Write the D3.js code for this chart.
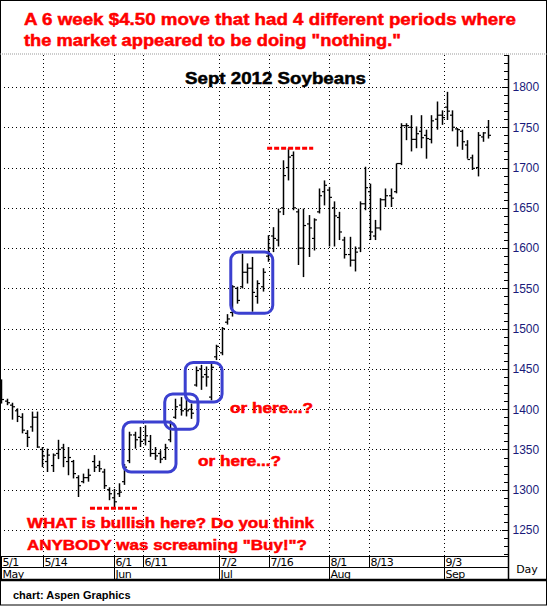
<!DOCTYPE html>
<html><head><meta charset="utf-8">
<script src="https://cdn.jsdelivr.net/npm/d3@7"></script>
<style>body{margin:0;background:#fff}svg{display:block}</style>
</head><body><svg id="c" width="547" height="607"></svg>
<script>
const highs=[1437,1413,1408,1401,1395,1374,1397,1397,1353,1351,1345,1362,1357,1353,1337,1318,1320,1326,1343,1336,1326,1303,1301,1308,1332,1372,1372,1378,1380,1368,1353,1349,1357,1386,1413,1415,1413,1407,1453,1455,1453,1457,1480,1502,1518,1554,1552,1593,1581,1589,1560,1575,1616,1626,1649,1709,1724,1720,1649,1649,1641,1637,1674,1684,1676,1658,1645,1614,1614,1602,1658,1701,1680,1635,1662,1674,1674,1705,1755,1755,1765,1751,1765,1747,1765,1782,1771,1794,1771,1749,1747,1734,1716,1744,1744,1759];
const lows=[1407,1405,1387,1384,1370,1353,1372,1352,1328,1322,1322,1338,1328,1318,1314,1291,1308,1310,1322,1322,1301,1287,1277,1291,1306,1333,1351,1353,1355,1341,1337,1333,1337,1359,1388,1392,1391,1388,1428,1424,1428,1411,1461,1467,1505,1515,1531,1550,1556,1521,1531,1546,1583,1595,1602,1641,1684,1647,1579,1564,1589,1597,1643,1653,1602,1602,1610,1587,1577,1571,1595,1647,1610,1610,1622,1651,1651,1668,1703,1734,1720,1724,1724,1711,1730,1747,1753,1759,1745,1726,1722,1711,1697,1689,1732,1736];
const opens=[1430,1410,1405,1398,1390,1370,1378,1390,1350,1335,1330,1345,1352,1335,1335,1315,1310,1315,1335,1330,1322,1300,1290,1295,1310,1336,1368,1365,1362,1360,1345,1345,1340,1362,1390,1405,1400,1400,1430,1450,1443,1415,1465,1470,1508,1520,1550,1552,1570,1575,1540,1552,1590,1615,1610,1650,1700,1715,1645,1600,1630,1612,1645,1670,1672,1650,1638,1610,1592,1585,1600,1655,1670,1615,1625,1660,1665,1670,1705,1752,1750,1735,1745,1740,1735,1760,1765,1775,1765,1748,1745,1728,1712,1700,1738,1750];
const closes=[1412,1408,1403,1391,1374,1365,1390,1353,1342,1343,1343,1350,1340,1340,1320,1305,1315,1318,1328,1326,1305,1295,1285,1297,1328,1368,1362,1360,1367,1345,1342,1338,1352,1383,1403,1398,1398,1395,1448,1440,1440,1452,1478,1500,1512,1552,1535,1570,1575,1545,1556,1570,1600,1612,1645,1690,1713,1650,1600,1628,1625,1635,1665,1678,1663,1640,1620,1592,1585,1595,1655,1675,1620,1625,1660,1665,1662,1705,1752,1752,1735,1742,1737,1736,1758,1765,1762,1770,1750,1747,1732,1710,1699,1740,1743,1740];
const dateLabels=["5/1","5/14","6/1","6/11","7/2","7/16","8/1","8/13","9/3"];
const dateIdx=[0,8.2,22,27.7,42.5,52.2,64,71.8,86.4];
const monthLabels=["May","Jun","Jul","Aug","Sep"];
const monthIdx=[0,22,42.5,64,86.4];
const priceTicks=[1250,1300,1350,1400,1450,1500,1550,1600,1650,1700,1750,1800];
// annotation boxes: [startIdx,endIdx,lowPrice,highPrice]
const boxes=[[23.75,34.1,1322,1384],[31.9,38.4,1375,1419],[35.9,43.1,1409,1458],[44.8,53.0,1519,1595]];
const redLines=[[17.3,26.5,1277],[51.9,60.9,1724]];

const svg=d3.select("#c");
const x=d3.scaleLinear().domain([0,1]).range([1.4,6.52]);
const y=d3.scaleLinear().domain([1250,1800]).range([530,87]);
const L=0,R=508,T=55,B=556;

svg.append("rect").attr("x",0.5).attr("y",0.5).attr("width",546).attr("height",604.5).attr("fill","none").attr("stroke","#000");
svg.append("line").attr("x1",0).attr("x2",547).attr("y1",T-1).attr("y2",T-1).attr("stroke","#999").attr("stroke-dasharray","1,1");
const hdr=["A 6 week $4.50 move that had 4 different periods where","the market appeared to be doing \"nothing.\""];
const hdrW=[492,377];
hdr.forEach((t,i)=>svg.append("text").attr("x",24).attr("y",25+i*21).attr("fill","#f00").attr("stroke","#f00").attr("stroke-width",0.5).attr("font-family","Liberation Sans, Arial").attr("font-weight","bold").attr("font-size",17).attr("textLength",hdrW[i]).attr("lengthAdjust","spacingAndGlyphs").text(t));

const g=svg.append("g");
priceTicks.forEach(p=>g.append("line").attr("x1",L).attr("x2",R).attr("y1",Math.round(y(p))+.5).attr("y2",Math.round(y(p))+.5).attr("stroke","#000").attr("stroke-dasharray","1,3"));
dateIdx.slice(1).forEach(d=>g.append("line").attr("x1",Math.round(x(d))+.5).attr("x2",Math.round(x(d))+.5).attr("y1",T).attr("y2",B).attr("stroke","#000").attr("stroke-dasharray","1,3"));

svg.append("text").attr("x",185).attr("y",84).attr("stroke","#000").attr("stroke-width",0.5).attr("font-family","Liberation Sans, Arial").attr("font-weight","bold").attr("font-size",17).attr("textLength",181).attr("lengthAdjust","spacingAndGlyphs").text("Sept 2012 Soybeans");

const ax=d3.axisRight(y).tickValues(priceTicks).tickSize(0).tickPadding(4).tickFormat(d3.format("d"));
const axg=svg.append("g").attr("transform",`translate(${R+0.5},0)`).call(ax);
axg.select(".domain").remove();
axg.selectAll("text").attr("font-family","Liberation Sans, Arial").attr("font-size",12).attr("fill","#1a1a7a");
svg.append("line").attr("x1",R+.5).attr("x2",R+.5).attr("y1",T).attr("y2",580).attr("stroke","#000").attr("stroke-width",1.5);
d3.range(1210,1860,10).forEach(v=>{const yy=Math.round(y(v))+.5; if(yy>T&&yy<B) svg.append("line").attr("x1",R-(v%50==0?6:4)).attr("x2",R).attr("y1",yy).attr("y2",yy).attr("stroke","#000");});

const data=highs.map((h,i)=>({i,h,l:lows[i],o:opens[i],c:closes[i]}));
const bg=svg.append("g").attr("stroke","#000").attr("stroke-width",1.5);
data.forEach(d=>{const cx=Math.round(x(d.i))+.5;
 bg.append("line").attr("x1",cx).attr("x2",cx).attr("y1",y(d.h)).attr("y2",y(d.l));
 bg.append("line").attr("x1",cx-2.5).attr("x2",cx).attr("y1",y(d.o)).attr("y2",y(d.o)).attr("stroke-width",1.2);
 bg.append("line").attr("x1",cx).attr("x2",cx+2.5).attr("y1",y(d.c)).attr("y2",y(d.c)).attr("stroke-width",1.2);
});

boxes.forEach(b=>svg.append("rect").attr("x",x(b[0])).attr("y",y(b[3])).attr("width",x(b[1])-x(b[0])).attr("height",y(b[2])-y(b[3])).attr("rx",8).attr("fill","none").attr("stroke","#3b40d0").attr("stroke-width",3));
redLines.forEach(r=>svg.append("line").attr("x1",x(r[0])).attr("x2",x(r[1])).attr("y1",y(r[2])).attr("y2",y(r[2])).attr("stroke","#f00").attr("stroke-width",3).attr("stroke-dasharray","5,2"));

const rt=(t,xx,yy,fs,w)=>{const e=svg.append("text").attr("x",xx).attr("y",yy).attr("fill","#f00").attr("stroke","#f00").attr("stroke-width",0.5).attr("font-family","Liberation Sans, Arial").attr("font-weight","bold").attr("font-size",fs).text(t); if(w) e.attr("textLength",w).attr("lengthAdjust","spacingAndGlyphs");};
rt("or here...?",230,413,14,83);
rt("or here...?",198,466,14,83);
rt("WHAT is bullish here? Do you think",27,528,15,287);
rt("ANYBODY was screaming \"Buy!\"?",27,550,15,280);

svg.append("line").attr("x1",0).attr("x2",R).attr("y1",B+.5).attr("y2",B+.5).attr("stroke","#000");
svg.append("line").attr("x1",0).attr("x2",R).attr("y1",567.5).attr("y2",567.5).attr("stroke","#000");
svg.append("line").attr("x1",0).attr("x2",547).attr("y1",580).attr("y2",580).attr("stroke","#000").attr("stroke-width",2.5);
dateIdx.forEach((d,k)=>{const xx=Math.max(0,Math.round(x(d)))+.5;
 svg.append("line").attr("x1",xx).attr("x2",xx).attr("y1",B).attr("y2",567).attr("stroke","#000");
 svg.append("text").attr("x",xx+1).attr("y",566).attr("font-family","DejaVu Sans, Liberation Sans").attr("font-size",11).attr("letter-spacing",-0.5).text(dateLabels[k]);});
monthIdx.forEach((d,k)=>{const xx=Math.max(0,Math.round(x(d)))+.5;
 svg.append("line").attr("x1",xx).attr("x2",xx).attr("y1",567).attr("y2",580).attr("stroke","#000");
 svg.append("text").attr("x",xx+1).attr("y",578).attr("font-family","DejaVu Sans, Liberation Sans").attr("font-size",11).attr("letter-spacing",-0.5).text(monthLabels[k]);});
svg.append("text").attr("x",527).attr("y",573).attr("text-anchor","middle").attr("font-family","DejaVu Sans, Liberation Sans").attr("font-size",11).text("Day");
svg.append("text").attr("x",13).attr("y",599).attr("font-family","Liberation Sans, Arial").attr("font-weight","bold").attr("font-size",11).text("chart: Aspen Graphics");
</script></body></html>
